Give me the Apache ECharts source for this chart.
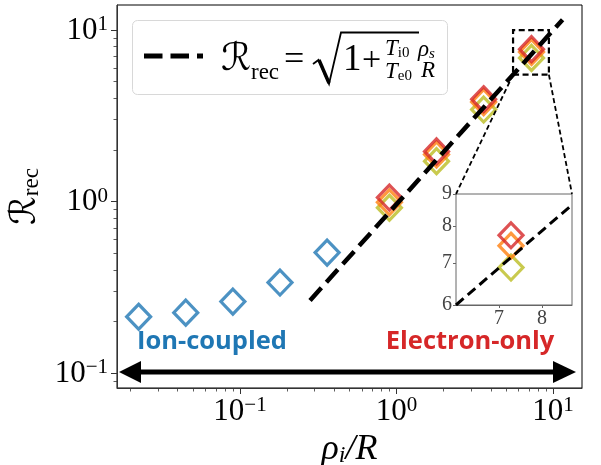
<!DOCTYPE html>
<html><head><meta charset="utf-8">
<script src="https://cdn.jsdelivr.net/npm/echarts@6/dist/echarts.min.js"></script>
<style>html,body{margin:0;padding:0;background:#fff}#c{width:601px;height:465px}</style>
</head><body><div id="c"></div>
<script>
// ---- data ----
const ionX = [0.0225, 0.045, 0.09, 0.18, 0.36];
const ionY = [0.213, 0.225, 0.261, 0.337, 0.504];
const elecX = [0.9, 1.8, 3.6, 7.28];
const elecYOlive = [0.92, 1.72, 3.44, 6.88];
const elecYOrange = [0.99, 1.88, 3.8, 7.45];
const elecYRed = [1.055, 1.96, 3.95, 7.74];
const fitX = [0.28, 11.5];
const fitY = [0.265, 11.5];
const insetFitX = [6.0, 8.7];
const insetFitY = [6.0, 8.65];
const xMajorTicks = [0.1, 1, 10];
const yMajorTicks = [0.1, 1, 10];
const xMinorTicks = [0.02,0.03,0.04,0.05,0.06,0.07,0.08,0.09,0.2,0.3,0.4,0.5,0.6,0.7,0.8,0.9,2,3,4,5,6,7,8,9];
const yMinorTicks = [0.09,0.2,0.3,0.4,0.5,0.6,0.7,0.8,0.9,2,3,4,5,6,7,8,9];
const insetXTicks = [7, 8];
const insetYTicks = [6, 7, 8, 9];
const zoomBoxX = [5.55, 9.4];
const zoomBoxY = [5.5, 10];
const xRange = [0.01637, 15.3];
const yRange = [0.0818, 14];
const insetXRange = [6, 8.7];
const insetYRange = [6, 9];

const C_BLUE = '#1f77b4', C_OLIVE = '#bcbd22', C_ORANGE = '#ff7f0e', C_RED = '#d62728';
const serif = "'Liberation Serif','DejaVu Serif',serif";
const scriptFont = "'DejaVu Serif','DejaVu Sans',serif";

function zipXY(xs, ys) { return xs.map((x, i) => [x, ys[i]]); }
function powLabel(v) {
  const e = Math.round(Math.log10(v));
  return '{b|10}{s|' + (e < 0 ? '\u2212' + (-e) : e) + '}';
}
const powRich = {
  b: {fontFamily: serif, fontSize: 31, color: '#000', lineHeight: 32, verticalAlign: 'bottom'},
  s: {fontFamily: serif, fontSize: 21, color: '#000', lineHeight: 22, verticalAlign: 'top'}
};

const chart = echarts.init(document.getElementById('c'), null, {renderer: 'canvas'});

function hollow(name, xs, ys, color, xi, yi, z) {
  return {
    name: name, type: 'scatter', xAxisIndex: xi, yAxisIndex: yi,
    data: zipXY(xs, ys), symbol: 'diamond', symbolSize: [24, 25], z: z,
    itemStyle: {color: 'rgba(0,0,0,0)', borderColor: color, borderWidth: 3.2},
    emphasis: {disabled: true}, clip: true, silent: true
  };
}

const option = {
  animation: false,
  backgroundColor: '#fff',
  grid: [
    {left: 117, right: 19, top: 5, bottom: 77, show: true, borderColor: '#000', borderWidth: 1, outerBoundsMode: 'none'},
    {left: 456, top: 194, width: 116, height: 111, show: true, backgroundColor: '#fff', borderColor: '#666', borderWidth: 1, z: 5, outerBoundsMode: 'none'}
  ],
  xAxis: [
    {type: 'log', gridIndex: 0, min: xRange[0], max: xRange[1], position: 'bottom',
     axisLine: {lineStyle: {color: '#333', width: 1}},
     axisTick: {customValues: xMajorTicks, length: 6, lineStyle: {color: '#333', width: 1}},
     axisLabel: {customValues: xMajorTicks, formatter: powLabel, rich: powRich, margin: 7},
     splitLine: {show: false}, minorTick: {show: false},
     name: '{i|\u03c1}{sub|i}{i|/R}', nameLocation: 'middle', nameGap: 39,
     nameTextStyle: {rich: {
       i: {fontFamily: serif, fontStyle: 'italic', fontSize: 36, color: '#000', lineHeight: 36},
       sub: {fontFamily: serif, fontStyle: 'italic', fontSize: 24, color: '#000', lineHeight: 20, verticalAlign: 'bottom'}
     }}},
    {type: 'log', gridIndex: 0, min: xRange[0], max: xRange[1], position: 'bottom',
     axisLine: {show: false},
     axisTick: {customValues: xMinorTicks, length: 3.5, lineStyle: {color: '#333', width: 0.8}},
     axisLabel: {show: false}, splitLine: {show: false}},
    {type: 'value', gridIndex: 1, min: insetXRange[0], max: insetXRange[1], position: 'bottom',
     axisLine: {lineStyle: {color: '#666'}},
     axisTick: {customValues: insetXTicks, length: 3, lineStyle: {color: '#666'}},
     axisLabel: {customValues: insetXTicks, fontFamily: serif, fontSize: 20, color: '#444', margin: 4},
     splitLine: {show: false}}
  ],
  yAxis: [
    {type: 'log', gridIndex: 0, min: yRange[0], max: yRange[1], position: 'left',
     axisLine: {lineStyle: {color: '#333', width: 1}},
     axisTick: {customValues: yMajorTicks, length: 6, lineStyle: {color: '#333', width: 1}},
     axisLabel: {customValues: yMajorTicks, formatter: powLabel, rich: powRich, margin: 9},
     splitLine: {show: false},
     name: '{c|\u211b}{sub|rec}', nameLocation: 'middle', nameGap: 72, nameRotate: 90,
     nameTextStyle: {rich: {
       c: {fontFamily: scriptFont, fontSize: 36, color: '#000', lineHeight: 36},
       sub: {fontFamily: serif, fontSize: 23, color: '#000', lineHeight: 20, verticalAlign: 'bottom'}
     }}},
    {type: 'log', gridIndex: 0, min: yRange[0], max: yRange[1], position: 'left',
     axisLine: {show: false},
     axisTick: {customValues: yMinorTicks, length: 3.5, lineStyle: {color: '#333', width: 0.8}},
     axisLabel: {show: false}, splitLine: {show: false}},
    {type: 'log', gridIndex: 1, min: insetYRange[0], max: insetYRange[1], position: 'left',
     axisLine: {lineStyle: {color: '#666'}},
     axisTick: {customValues: insetYTicks, length: 3, lineStyle: {color: '#666'}},
     axisLabel: {customValues: insetYTicks, fontFamily: serif, fontSize: 20, color: '#444', margin: 4},
     splitLine: {show: false}}
  ],
  series: [
    hollow('Ion-coupled', ionX, ionY, C_BLUE, 0, 0, 2),
    hollow('olive', elecX, elecYOlive, C_OLIVE, 0, 0, 2),
    hollow('orange', elecX, elecYOrange, C_ORANGE, 0, 0, 2),
    hollow('red', elecX, elecYRed, C_RED, 0, 0, 2),
    {name: 'fit', type: 'line', xAxisIndex: 0, yAxisIndex: 0, data: zipXY(fitX, fitY), z: 3,
     symbol: 'none', silent: true, lineStyle: {color: '#000', width: 4.5, type: [17, 7.5], cap: 'butt'},
     markArea: {silent: true, itemStyle: {color: 'rgba(0,0,0,0)', borderColor: '#000', borderWidth: 2.2, borderType: [6, 3.5]},
       data: [[{coord: [zoomBoxX[0], zoomBoxY[0]]}, {coord: [zoomBoxX[1], zoomBoxY[1]]}]]}},
    hollow('olive-inset', elecX, elecYOlive, C_OLIVE, 2, 2, 6),
    hollow('orange-inset', elecX, elecYOrange, C_ORANGE, 2, 2, 6),
    hollow('red-inset', elecX, elecYRed, C_RED, 2, 2, 6),
    {name: 'fit-inset', type: 'line', xAxisIndex: 2, yAxisIndex: 2, data: zipXY(insetFitX, insetFitY), z: 7,
     symbol: 'none', silent: true, clip: true, lineStyle: {color: '#000', width: 3, type: [10, 5.5]}}
  ]
};
chart.setOption(option);

// annotations (legend, arrow, labels, connectors)
const bl = chart.convertToPixel({xAxisIndex: 0, yAxisIndex: 0}, [zoomBoxX[0], zoomBoxY[0]]);
const br = chart.convertToPixel({xAxisIndex: 0, yAxisIndex: 0}, [zoomBoxX[1], zoomBoxY[0]]);
const itl = chart.convertToPixel({xAxisIndex: 2, yAxisIndex: 2}, [insetXRange[0], insetYRange[1]]);
const itr = chart.convertToPixel({xAxisIndex: 2, yAxisIndex: 2}, [insetXRange[1], insetYRange[1]]);

function txt(x, y, text, font, size, extra) {
  return {type: 'text', x: x, y: y, z: 20, style: Object.assign({text: text, fontFamily: font, fontSize: size, fill: '#000', align: 'left', verticalAlign: 'middle'}, extra || {})};
}
function fracPart(x, y, main, sub, subItalic) {
  return {type: 'text', x: x, y: y, z: 20, style: {text: '{t|' + main + '}{s|' + sub + '}', verticalAlign: 'middle',
    rich: {t: {fontFamily: serif, fontStyle: 'italic', fontSize: 23, fill: '#000'},
           s: {fontFamily: serif, fontStyle: subItalic ? 'italic' : 'normal', fontSize: 15, fill: '#000', verticalAlign: 'bottom', lineHeight: 14}}}};
}
const arrowY = 372;
chart.setOption({
  graphic: [
    {type: 'line', z: 10, shape: {x1: bl[0], y1: bl[1], x2: itl[0], y2: itl[1]}, style: {stroke: '#000', lineWidth: 1.8, lineDash: [5, 3]}},
    {type: 'line', z: 10, shape: {x1: br[0], y1: br[1], x2: itr[0], y2: itr[1]}, style: {stroke: '#000', lineWidth: 1.8, lineDash: [5, 3]}},
    // legend box
    {type: 'rect', z: 15, shape: {x: 132.5, y: 20.5, width: 315, height: 74, r: 5}, style: {fill: 'rgba(255,255,255,0.85)', stroke: '#d8d8d8', lineWidth: 1}},
    {type: 'line', z: 16, shape: {x1: 144, y1: 56, x2: 203, y2: 56}, style: {stroke: '#000', lineWidth: 5, lineDash: [18.5, 8]}},
    txt(221, 60, '\u211b', scriptFont, 38),
    txt(251, 73, 'rec', serif, 23),
    txt(284, 61, '=', serif, 36),
    {type: 'polyline', z: 20, shape: {points: [[313, 64], [318.5, 60], [329, 84], [341, 32.5], [419, 32.5]]}, style: {stroke: '#000', lineWidth: 1.8, fill: null}},
    {type: 'line', z: 20, shape: {x1: 319, y1: 60, x2: 329, y2: 83}, style: {stroke: '#000', lineWidth: 3.5}},
    txt(343, 60, '1', serif, 37),
    txt(362, 61, '+', serif, 34),
    fracPart(385, 49, 'T', 'i0', false),
    fracPart(385, 72, 'T', 'e0', false),
    fracPart(418, 50, '\u03c1', 's', true),
    txt(421, 71, 'R', serif, 23, {fontStyle: 'italic'}),
    // double arrow
    {type: 'line', z: 12, shape: {x1: 136, y1: arrowY, x2: 558, y2: arrowY}, style: {stroke: '#000', lineWidth: 5}},
    {type: 'polygon', z: 12, shape: {points: [[119, arrowY], [141, arrowY - 11], [141, arrowY + 11]]}, style: {fill: '#000'}},
    {type: 'polygon', z: 12, shape: {points: [[576, arrowY], [553, arrowY - 11], [553, arrowY + 11]]}, style: {fill: '#000'}},
    // labels
    {type: 'text', x: 212, y: 342, z: 12, style: {text: 'Ion-coupled', fontFamily: "'Open Sans',sans-serif", fontWeight: 'bold', fontSize: 25.5, fill: '#1f77b4', align: 'center', verticalAlign: 'middle'}},
    {type: 'text', x: 470, y: 342, z: 12, style: {text: 'Electron-only', fontFamily: "'Open Sans',sans-serif", fontWeight: 'bold', fontSize: 25.5, fill: '#d62728', align: 'center', verticalAlign: 'middle'}}
  ]
});
</script>
</body></html>
